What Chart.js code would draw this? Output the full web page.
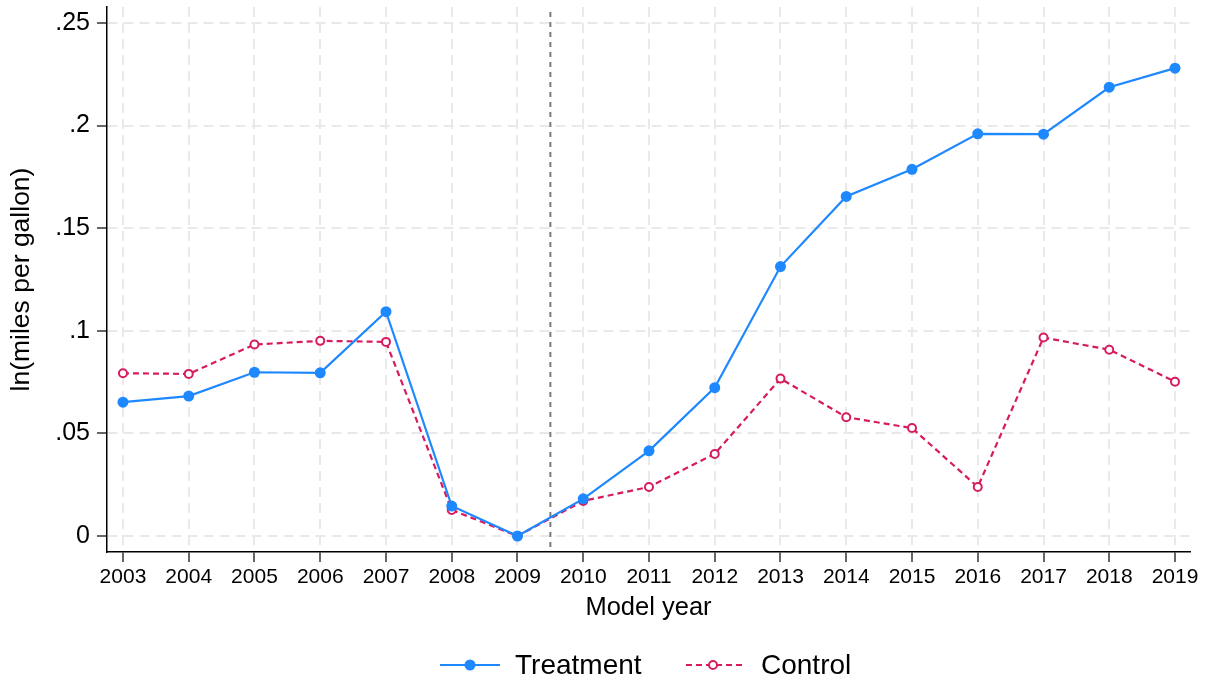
<!DOCTYPE html>
<html>
<head>
<meta charset="utf-8">
<script src="https://cdn.jsdelivr.net/npm/chart.js@4.4.1/dist/chart.umd.min.js"></script>
<style>
  html, body { margin: 0; padding: 0; background: #fff; }
  #wrap { position: relative; width: 1211px; height: 682px; }
  #legend { position: absolute; left: 0; top: 645px; width: 1211px; height: 40px;
    font-family: 'Liberation Sans', Arial, Helvetica, sans-serif; font-size: 28px; color: #000; }
  .item { position: absolute; top: 0; height: 40px; line-height: 40px; white-space: nowrap; }
  .item svg { position: absolute; top: 0; }
  .item span { position: absolute; top: 0; }
</style>
</head>
<body>
<div id="wrap">
  <canvas id="chart" width="1211" height="682"></canvas>
  <div id="legend">
    <div class="item" style="left:440px">
      <svg width="62" height="40"><line x1="0" y1="20" x2="60" y2="20" stroke="#1e88ff" stroke-width="2.2"/><circle cx="30" cy="20" r="5.5" fill="#1e88ff"/></svg>
      <span style="left:75px">Treatment</span>
    </div>
    <div class="item" style="left:686px">
      <svg width="62" height="40"><line x1="0" y1="20" x2="60" y2="20" stroke="#d81b60" stroke-width="2.2" stroke-dasharray="6,4"/><circle cx="27" cy="20" r="4" fill="#fff" stroke="#d81b60" stroke-width="2"/></svg>
      <span style="left:75px">Control</span>
    </div>
  </div>
</div>
<script>
// ── Data ─────────────────────────────────────────────────────────────────────
const years     = [2003, 2004, 2005, 2006, 2007, 2008, 2009, 2010, 2011, 2012, 2013, 2014, 2015, 2016, 2017, 2018, 2019];
const treatment = [0.0652, 0.0682, 0.0798, 0.0795, 0.1093, 0.0146, 0.0000, 0.0181, 0.0415, 0.0723, 0.1313, 0.1655, 0.1787, 0.1960, 0.1958, 0.2187, 0.2280];
const control   = [0.0793, 0.0790, 0.0933, 0.0951, 0.0946, 0.0127, 0.0000, 0.0171, 0.0239, 0.0400, 0.0767, 0.0579, 0.0526, 0.0239, 0.0967, 0.0908, 0.0752];
const yTicks    = [0, 0.05, 0.1, 0.15, 0.2, 0.25];
const yLabels   = ['0', '.05', '.1', '.15', '.2', '.25'];
const cutYear   = 2009.5;

const clr = { treat: '#1e88ff', ctrl: '#d81b60', grid: '#e9e9e9', axis: '#000', cut: '#7a7a7a' };
const font = "'Liberation Sans', Arial, Helvetica, sans-serif";

// vertical dashed line between 2009 and 2010
const cutLine = {
  id: 'cutLine',
  beforeDatasetsDraw(chart) {
    const { ctx, chartArea, scales } = chart;
    const x = scales.x.getPixelForValue(cutYear);
    ctx.save();
    ctx.strokeStyle = clr.cut;
    ctx.lineWidth = 2;
    ctx.setLineDash([5, 5]);
    ctx.beginPath();
    ctx.moveTo(x, chartArea.top + 5);
    ctx.lineTo(x, chartArea.bottom);
    ctx.stroke();
    ctx.restore();
  }
};

const gridBase = {
  color: clr.grid, lineWidth: 2,
  drawTicks: true, tickLength: 10, tickColor: clr.axis, tickWidth: 1.2, tickBorderDash: []
};
const borderBase = { display: true, color: clr.axis, width: 1.5, dash: [10, 6] };

new Chart(document.getElementById('chart'), {
  type: 'line',
  data: {
    datasets: [
      { label: 'Treatment', data: years.map((y, i) => ({ x: y, y: treatment[i] })),
        borderColor: clr.treat, backgroundColor: clr.treat, borderWidth: 2.2,
        pointRadius: 5.5, pointBorderWidth: 0, pointBackgroundColor: clr.treat, tension: 0 },
      { label: 'Control', data: years.map((y, i) => ({ x: y, y: control[i] })),
        borderColor: clr.ctrl, backgroundColor: '#fff', borderWidth: 2.2, borderDash: [6, 4],
        pointRadius: 4, pointBorderWidth: 2, pointBackgroundColor: '#fff', pointBorderColor: clr.ctrl, tension: 0 }
    ]
  },
  options: {
    responsive: false,
    animation: false,
    layout: { padding: { left: 0, top: 7, right: 21, bottom: 50 } },
    plugins: { legend: { display: false }, tooltip: { enabled: false } },
    scales: {
      x: {
        type: 'linear', min: 2002.757, max: 2019.228,
        afterBuildTicks: s => { s.ticks = years.map(v => ({ value: v })); },
        afterFit: s => { s.height = 80; s.paddingLeft = 0; s.paddingRight = 0; },
        ticks: { color: '#000', font: { family: font, size: 21 }, padding: 3, autoSkip: false,
          maxRotation: 0, callback: v => String(v) },
        grid: gridBase,
        border: borderBase,
        title: { display: true, text: 'Model year', color: '#000',
          font: { family: font, size: 25.5 }, padding: { top: 0, bottom: 9 } }
      },
      y: {
        min: -0.0078, max: 0.2578,
        afterBuildTicks: s => { s.ticks = yTicks.map(v => ({ value: v })); },
        afterFit: s => { s.width = 107; s.paddingTop = 0; s.paddingBottom = 0; },
        ticks: { color: '#000', font: { family: font, size: 25 }, padding: 7,
          callback: v => yLabels[yTicks.indexOf(v)] ?? '' },
        grid: gridBase,
        border: borderBase,
        title: { display: true, text: 'ln(miles per gallon)', color: '#000',
          font: { family: font, size: 26.5 }, padding: { top: 6, bottom: 0 } }
      }
    }
  },
  plugins: [cutLine]
});
</script>
</body>
</html>
